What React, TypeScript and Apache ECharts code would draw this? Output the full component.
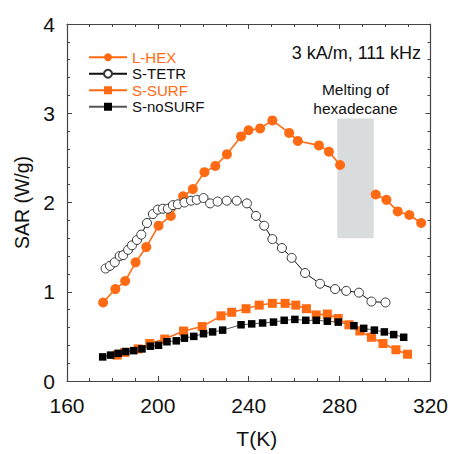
import React, { useEffect, useRef } from "react";
import * as echarts from "echarts";

const FONT = "'Liberation Sans', Arial, sans-serif";
const ORANGE = "#ff6a13";

const X_TICKS = [160, 200, 240, 280, 320];
const Y_TICKS = [0, 1, 2, 3, 4];

// L-HEX (before and after the melting region)
const LHEX_T_LOW = [175.9, 181.3, 185.6, 190.2, 194.9, 200.3, 205.7, 211.1, 215.4, 220.5, 225.3, 230.4, 236.6, 239.9, 245.0, 250.4, 257.8, 261.6, 270.9, 275.3, 280.2];
const LHEX_SAR_LOW = [0.88, 1.03, 1.12, 1.33, 1.5, 1.74, 1.85, 2.07, 2.15, 2.34, 2.41, 2.54, 2.74, 2.81, 2.83, 2.92, 2.78, 2.69, 2.64, 2.57, 2.42];
const LHEX_T_HIGH = [295.9, 300.6, 305.6, 310.7, 315.9];
const LHEX_SAR_HIGH = [2.09, 2.03, 1.9, 1.86, 1.77];

const TETR_T = [177.0, 178.9, 181.0, 183.2, 184.7, 186.9, 188.6, 190.8, 192.7, 195.2, 197.8, 200.0, 202.2, 204.4, 206.6, 208.8, 211.7, 214.6, 217.1, 220.1, 223.0, 226.3, 230.3, 234.7, 239.2, 243.2, 246.8, 250.4, 254.6, 258.9, 264.8, 271.4, 278.0, 282.9, 288.5, 294.0, 300.2];
const TETR_SAR = [1.26, 1.29, 1.33, 1.4, 1.41, 1.47, 1.52, 1.58, 1.64, 1.77, 1.87, 1.92, 1.93, 1.93, 1.97, 1.98, 2.0, 2.02, 2.03, 2.05, 1.99, 2.01, 2.02, 2.02, 1.99, 1.85, 1.74, 1.59, 1.49, 1.38, 1.21, 1.09, 1.03, 1.01, 0.99, 0.89, 0.88];

const SURF_T = [182.1, 185.4, 191.3, 196.4, 203.0, 211.3, 219.5, 227.8, 232.5, 238.8, 244.6, 250.4, 256.0, 260.7, 265.4, 269.7, 274.6, 279.4, 284.1, 288.9, 294.0, 299.1, 304.8, 309.9];
const SURF_SAR = [0.29, 0.32, 0.36, 0.42, 0.47, 0.56, 0.61, 0.73, 0.77, 0.81, 0.85, 0.87, 0.87, 0.85, 0.81, 0.74, 0.75, 0.7, 0.63, 0.56, 0.49, 0.42, 0.35, 0.3];

const NOSURF_T = [175.7, 179.2, 182.5, 185.9, 189.4, 193.0, 196.7, 200.3, 204.0, 208.1, 211.7, 215.8, 220.1, 224.1, 228.5, 236.6, 241.3, 246.1, 250.9, 255.6, 260.3, 265.1, 269.7, 274.6, 279.4, 286.3, 290.6, 295.3, 299.7, 303.8, 308.2];
const NOSURF_SAR = [0.27, 0.29, 0.31, 0.33, 0.34, 0.36, 0.39, 0.4, 0.44, 0.45, 0.48, 0.5, 0.53, 0.55, 0.57, 0.63, 0.64, 0.65, 0.66, 0.68, 0.69, 0.68, 0.68, 0.67, 0.66, 0.62, 0.59, 0.57, 0.55, 0.52, 0.49];

const MELT_T = [279, 295];
const MELT_SAR = [1.6, 2.94];

const zip = (xs: number[], ys: number[]) => xs.map((x, i) => [x, ys[i]]);

export default function App() {
  const ref = useRef<HTMLDivElement>(null);
  useEffect(() => {
    if (!ref.current) return;
    const chart = echarts.init(ref.current, undefined, { renderer: "svg" });
    const axisColor = "#444";
    const baseX = {
      type: "value",
      min: X_TICKS[0],
      max: X_TICKS[X_TICKS.length - 1],
      interval: X_TICKS[1] - X_TICKS[0],
      axisLine: { show: true, onZero: false, lineStyle: { color: axisColor, width: 1.2 } },
      axisTick: { show: true, inside: true, length: 5, lineStyle: { color: axisColor } },
      minorTick: { show: true, splitNumber: 4, length: 3, lineStyle: { color: axisColor } },
      splitLine: { show: false },
    };
    const baseY = {
      type: "value",
      min: Y_TICKS[0],
      max: Y_TICKS[Y_TICKS.length - 1],
      interval: Y_TICKS[1] - Y_TICKS[0],
      axisLine: { show: true, onZero: false, lineStyle: { color: axisColor, width: 1.2 } },
      axisTick: { show: true, inside: true, length: 5, lineStyle: { color: axisColor } },
      minorTick: { show: true, splitNumber: 5, length: 3, lineStyle: { color: axisColor } },
      splitLine: { show: false },
    };
    chart.setOption({
      animation: false,
      backgroundColor: "#fff",
      textStyle: { fontFamily: FONT },
      grid: { left: 67, right: 19, top: 24, bottom: 66 },
      xAxis: [
        {
          ...baseX,
          position: "bottom",
          name: "T(K)",
          nameLocation: "middle",
          nameGap: 47,
          nameTextStyle: { fontSize: 21, color: "#111", fontFamily: FONT, padding: [0, 0, 0, 16] },
          axisLabel: { fontSize: 21, color: "#111", margin: 14, fontFamily: FONT },
        },
        { ...baseX, position: "top", axisLabel: { show: false } },
      ],
      yAxis: [
        {
          ...baseY,
          position: "left",
          name: "SAR (W/g)",
          nameLocation: "middle",
          nameGap: 30,
          nameTextStyle: { fontSize: 19.5, color: "#111", fontFamily: FONT },
          axisLabel: { fontSize: 21, color: "#111", margin: 12, fontFamily: FONT },
        },
        { ...baseY, position: "right", axisLabel: { show: false } },
      ],
      legend: {
        orient: "vertical",
        left: 83,
        top: 44,
        itemWidth: 38,
        itemHeight: 10,
        itemGap: 0,
        textStyle: { fontSize: 15, lineHeight: 16.5, fontFamily: FONT },
        data: [
          { name: "L-HEX", textStyle: { color: ORANGE } },
          { name: "S-TETR", textStyle: { color: "#111" } },
          { name: "S-SURF", textStyle: { color: ORANGE } },
          { name: "S-noSURF", textStyle: { color: "#111" } },
        ],
      },
      graphic: [
        {
          type: "text",
          right: 30,
          top: 44,
          style: { text: "3 kA/m, 111 kHz", font: `18px ${FONT}`, fill: "#111" },
        },
      ],
      series: [
        {
          name: "L-HEX",
          type: "line",
          data: [...zip(LHEX_T_LOW, LHEX_SAR_LOW), "-", ...zip(LHEX_T_HIGH, LHEX_SAR_HIGH)],
          connectNulls: false,
          symbol: "circle",
          symbolSize: 10,
          lineStyle: { color: ORANGE, width: 1.6 },
          itemStyle: { color: ORANGE },
          markArea: {
            silent: true,
            itemStyle: { color: "#d9dcdc", opacity: 1 },
            label: {
              show: true,
              position: "top",
              distance: 1,
              formatter: "Melting of\nhexadecane",
              fontSize: 15.5,
              lineHeight: 19,
              color: "#111",
              fontFamily: FONT,
            },
            data: [[{ xAxis: MELT_T[0], yAxis: MELT_SAR[0] }, { xAxis: MELT_T[1], yAxis: MELT_SAR[1] }]],
          },
        },
        {
          name: "S-TETR",
          type: "line",
          data: zip(TETR_T, TETR_SAR),
          symbol: "circle",
          symbolSize: 9,
          lineStyle: { color: "#111", width: 1 },
          itemStyle: { color: "#fff", borderColor: "#333", borderWidth: 1 },
        },
        {
          name: "S-SURF",
          type: "line",
          data: zip(SURF_T, SURF_SAR),
          symbol: "rect",
          symbolSize: 9,
          lineStyle: { color: ORANGE, width: 1.5 },
          itemStyle: { color: ORANGE },
        },
        {
          name: "S-noSURF",
          type: "line",
          data: zip(NOSURF_T, NOSURF_SAR),
          symbol: "rect",
          symbolSize: 7.5,
          lineStyle: { color: "#555", width: 1 },
          itemStyle: { color: "#000" },
        },
      ],
    });
    return () => chart.dispose();
  }, []);
  return <div ref={ref} style={{ width: 451, height: 454, position: "absolute", left: 0, top: 0 }} />;
}
